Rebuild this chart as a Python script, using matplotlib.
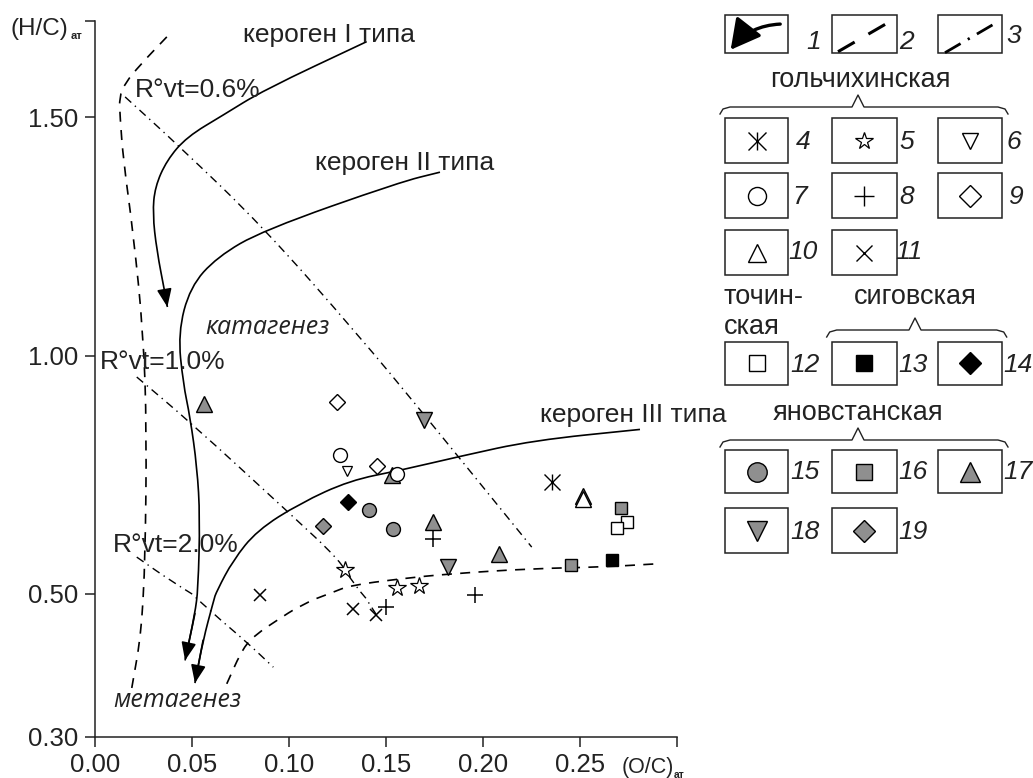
import matplotlib.pyplot as plt
import numpy as np
from matplotlib.patches import Rectangle, FancyArrowPatch, PathPatch
from matplotlib.path import Path

plt.rcParams['font.family'] = ['Liberation Sans', 'DejaVu Sans']

# атомные отношения O/C и H/C, по номерам условных знаков
oc_4 = [0.2354]
hc_4 = [0.7345]
oc_5 = [0.1289, 0.1555, 0.1672]
hc_5 = [0.549, 0.5126, 0.5153]
oc_6 = [0.1297]
hc_6 = [0.757]
oc_7 = [0.1263, 0.1557]
hc_7 = [0.7916, 0.752]
oc_8 = [0.1744, 0.1959, 0.150]
hc_8 = [0.6155, 0.4976, 0.4813]
oc_9 = [0.1249, 0.1452]
hc_9 = [0.9025, 0.7674]
oc_10 = [0.2517]
hc_10 = [0.700]
oc_11 = [0.0848, 0.1331, 0.1448]
hc_11 = [0.4976, 0.479, 0.4697]
oc_12 = [0.2744, 0.2692]
hc_12 = [0.6504, 0.6387]
oc_13 = [0.2663]
hc_13 = [0.570]
oc_14 = [0.1306]
hc_14 = [0.6924]
oc_15 = [0.1413, 0.1535]
hc_15 = [0.6765, 0.635]
oc_16 = [0.271, 0.2452]
hc_16 = [0.6798, 0.561]
oc_17 = [0.0563, 0.1741, 0.2082, 0.1529, 0.2517]
hc_17 = [0.899, 0.650, 0.5826, 0.7485, 0.706]
oc_18 = [0.1696, 0.1818]
hc_18 = [0.864, 0.5559]
oc_19 = [0.1174]
hc_19 = [0.6424]

# линии эволюции керогена
ker1_oc = [0.140, 0.0868, 0.0661, 0.0473, 0.0370, 0.0309, 0.0297, 0.0318, 0.0361, 0.0373]
ker1_hc = [1.659, 1.557, 1.505, 1.459, 1.410, 1.354, 1.298, 1.221, 1.130, 1.102]
ker2_oc = [0.1778, 0.157, 0.0866, 0.0629, 0.049, 0.0428, 0.0454, 0.049, 0.0526, 0.0541, 0.0531, 0.0515, 0.0464]
ker2_hc = [1.385, 1.364, 1.263, 1.207, 1.144, 1.047, 0.942, 0.871, 0.765, 0.661, 0.507, 0.4724, 0.4067]
ker3_oc = [0.2809, 0.2258, 0.1881, 0.1572, 0.1314, 0.1057, 0.0835, 0.0711, 0.0629, 0.0608, 0.0557, 0.0515]
ker3_hc = [0.845, 0.822, 0.7885, 0.759, 0.738, 0.690, 0.633, 0.570, 0.507, 0.487, 0.435, 0.375]

# границы зон (пунктир)
left_oc = [0.037, 0.0232, 0.0155, 0.0125, 0.0129, 0.0146, 0.0197, 0.0249, 0.0266, 0.0258, 0.0241, 0.0189]
left_hc = [1.669, 1.610, 1.572, 1.543, 1.501, 1.410, 1.257, 1.047, 0.843, 0.564, 0.4487, 0.3676]
low_oc = [0.0679, 0.0764, 0.0834, 0.0937, 0.1057, 0.1228, 0.1314, 0.1572, 0.183, 0.2258, 0.2603, 0.2902]
low_hc = [0.374, 0.4253, 0.444, 0.4627, 0.4836, 0.5034, 0.5174, 0.5315, 0.542, 0.553, 0.5559, 0.563]

# изолинии отражательной способности витринита
r06_oc = [0.0155, 0.0438, 0.0866, 0.1349, 0.1691, 0.2251]
r06_hc = [1.543, 1.438, 1.270, 1.047, 0.879, 0.598]
r10_oc = [0.0215, 0.049, 0.1005, 0.1263, 0.133, 0.1459]
r10_hc = [0.955, 0.8605, 0.668, 0.570, 0.5216, 0.467]
r20_oc = [0.0215, 0.0387, 0.0608, 0.0782, 0.0919]
r20_hc = [0.577, 0.528, 0.4724, 0.4323, 0.3973]

GRAY = '#8f8f8f'
INK = '#222222'


def fwd(y):
    y = np.asarray(y, float)
    return np.where(y >= 0.5, y, 0.5 - 1.5 * (0.5 - y))


def inv(u):
    u = np.asarray(u, float)
    return np.where(u >= 0.5, u, 0.5 - (0.5 - u) / 1.5)


def smooth(ax, xs, ys, **kw):
    # квадратичные кривые Безье через середины отрезков
    p = np.column_stack([xs, ys])
    verts = [p[0], (p[0] + p[1]) / 2]
    codes = [Path.MOVETO, Path.LINETO]
    for i in range(1, len(p) - 1):
        verts += [p[i], (p[i] + p[i + 1]) / 2]
        codes += [Path.CURVE3, Path.CURVE3]
    verts.append(p[-1])
    codes.append(Path.LINETO)
    ax.add_patch(PathPatch(Path(verts, codes), fill=False, **kw))


fig = plt.figure(figsize=(10.33, 7.78), dpi=100)
ax = fig.add_axes([0.0920, 0.0531, 0.5634, 0.9203])
ax.set_yscale('function', functions=(fwd, inv))
ax.set_xlim(0, 0.30)
ax.set_ylim(0.30, 1.703)
ax.set_xticks([0, 0.05, 0.10, 0.15, 0.20, 0.25, 0.30],
              labels=['0.00', '0.05', '0.10', '0.15', '0.20', '0.25', ''])
ax.set_yticks([0.30, 0.50, 1.00, 1.50, 1.703],
              labels=['0.30', '0.50', '1.00', '1.50', ''])
ax.minorticks_off()
for s in ['top', 'right']:
    ax.spines[s].set_visible(False)
for s in ['left', 'bottom']:
    ax.spines[s].set_linewidth(1.1)
    ax.spines[s].set_color(INK)
ax.tick_params(direction='out', length=7.2, width=1.1, labelsize=18.5,
               colors=INK)
ax.tick_params(axis='y', pad=5)
ax.tick_params(axis='x', pad=4.5)
ax.patch.set_visible(False)

# кривые керогена со стрелками
for xs, ys in [(ker1_oc, ker1_hc), (ker2_oc, ker2_hc), (ker3_oc, ker3_hc)]:
    smooth(ax, xs, ys, ec='k', lw=1.2, zorder=2)
    ax.annotate('', xy=(xs[-1], ys[-1]), xytext=(xs[-2], ys[-2]),
                arrowprops=dict(arrowstyle='-|>,head_length=1.1,head_width=0.45',
                                mutation_scale=10, color='k', lw=1.2,
                                shrinkA=0, shrinkB=0), zorder=2)

smooth(ax, left_oc, left_hc, ec='k', lw=1.2, ls=(0, (6, 5)), zorder=2)
smooth(ax, low_oc, low_hc, ec='k', lw=1.2, ls=(0, (6, 5)), zorder=2)
for xs, ys in [(r06_oc, r06_hc), (r10_oc, r10_hc), (r20_oc, r20_hc)]:
    smooth(ax, xs, ys, ec='k', lw=1.0, ls=(0, (6, 3.5, 1, 3.5)), zorder=2)

# точки
def pts(x, y, m, fc, ms, mew=1.0, z=4):
    ax.plot(x, y, ls='none', marker=m, mfc=fc, mec='k', ms=ms, mew=mew, zorder=z)

pts(oc_4, hc_4, '|', 'none', 11, 1.0)
pts(oc_4, hc_4, 'x', 'none', 11, 1.0)
pts(oc_5, hc_5, '*', 'white', 13, 0.9)
pts(oc_6, hc_6, 'v', 'white', 7.5, 0.9)
pts(oc_8, hc_8, '+', 'none', 11, 1.1)
pts(oc_9, hc_9, 'D', 'white', 8.5, 1.0)
pts(oc_11, hc_11, 'x', 'none', 9, 1.1)
pts(oc_12, hc_12, 's', 'white', 9, 1.0)
pts(oc_13, hc_13, 's', 'black', 9, 1.0)
pts(oc_14, hc_14, 'D', 'black', 8.5, 1.0)
pts(oc_15, hc_15, 'o', GRAY, 10, 1.0)
pts(oc_16, hc_16, 's', GRAY, 9, 1.0)
pts(oc_17, hc_17, '^', GRAY, 12, 1.0)
pts(oc_18, hc_18, 'v', GRAY, 12, 1.0)
pts(oc_19, hc_19, 'D', GRAY, 8.5, 1.0)
pts(oc_10, hc_10, '^', 'white', 12, 1.0, 5)
pts(oc_7, hc_7, 'o', 'white', 10, 1.0, 5)

# подписи на поле диаграммы
tk = dict(fontsize=19, color=INK, va='center', ha='left')
ax.text(0.0763, 1.673, 'кероген I типа', **tk)
ax.text(0.1134, 1.404, 'кероген II типа', **tk)
ax.text(0.2294, 0.875, 'кероген III типа', **tk)
ax.text(0.0206, 1.558, 'R°vt=0.6%', **tk)
ax.text(0.0026, 0.9866, 'R°vt=1.0%', **tk)
ax.text(0.0093, 0.6015, 'R°vt=2.0%', **tk)
it = dict(fontsize=18, color=INK, va='center', ha='left',
          family=['Open Sans', 'DejaVu Sans'], style='italic')
ax.text(0.0567, 1.060, 'катагенез', **it)
ax.text(0.0093, 0.3508, 'метагенез', **it)

W, H = 1033, 778
fig.text(11 / W, 1 - 29 / H, '(H/C)', fontsize=17.5, color=INK, va='center')
fig.text(71 / W, 1 - 36 / H, 'ат', fontsize=8, weight='bold', color=INK, va='center')
fig.text(622 / W, 1 - 767 / H, '(O/C)', fontsize=15.5, color=INK, va='center')
fig.text(674 / W, 1 - 775 / H, 'ат', fontsize=7.5, weight='bold', color=INK, va='center')

# условные обозначения (координаты в пикселях)
lax = fig.add_axes([0, 0, 1, 1])
lax.set_xlim(0, W)
lax.set_ylim(H, 0)
lax.axis('off')

cols = [(725, 788.3), (831.7, 896.7), (938.3, 1001.7)]


def box(c, y0, y1):
    x0, x1 = cols[c]
    lax.add_patch(Rectangle((x0, y0), x1 - x0, y1 - y0, fill=False, ec=INK, lw=1.1))
    return (x0 + x1) / 2, (y0 + y1) / 2


def num(x, y, s):
    lax.text(x, y, s, fontsize=19, style='italic', color=INK, ha='center', va='center')


def brace(x0, x1, y, px):
    xs = [x0, x0 + 3, x0 + 10, px - 6, px, px + 6, x1 - 10, x1 - 3, x1]
    ys = [y + 7, y + 2, y, y, y - 12, y, y, y + 2, y + 7]
    lax.plot(xs, ys, color=INK, lw=1.0)


def mk(x, y, m, fc, ms, mew=1.0):
    lax.plot([x], [y], ls='none', marker=m, mfc=fc, mec='k', ms=ms, mew=mew)


# 1-3
box(0, 15, 53.3)
lax.add_patch(FancyArrowPatch((783, 24), (729, 52), connectionstyle='arc3,rad=0.25',
                              arrowstyle='-|>,head_length=1.3,head_width=0.7',
                              mutation_scale=14, color='k', lw=2.4))
num(814, 42, '1')
box(1, 15, 53.3)
lax.plot([838, 887], [51.7, 23.3], color='k', lw=2.2, ls=(0, (6.3, 5.2)))
num(906, 42, '2')
box(2, 15, 53.3)
lax.plot([945, 998], [52.7, 21.7], color='k', lw=2.0, ls=(0, (6.5, 3.0, 0.8, 3.0)))
num(1014, 36, '3')

tx = dict(fontsize=19.5, color=INK, ha='center', va='center')
lax.text(860, 80, 'гольчихинская', **tx)
brace(720, 1008, 107, 858)

x, y = box(0, 118.3, 163.3); mk(x, y, '|', 'none', 13); mk(x, y, 'x', 'none', 13)
num(803, 141.7, '4')
x, y = box(1, 118.3, 163.3); mk(x, y, '*', 'white', 13, 0.9)
num(907, 141.7, '5')
x, y = box(2, 118.3, 163.3); mk(x, y, 'v', 'white', 12)
num(1014, 141.7, '6')

x, y = box(0, 173.3, 218.3); mk(x, y, 'o', 'white', 13)
num(800, 196.7, '7')
x, y = box(1, 173.3, 218.3); mk(x, y, '+', 'none', 14)
num(907, 196.7, '8')
x, y = box(2, 173.3, 218.3); mk(x, y, 'D', 'white', 11)
num(1015, 196.7, '9')

x, y = box(0, 230, 275); mk(x, y, '^', 'white', 13)
num(803, 252, '10')
x, y = box(1, 230, 275); mk(x, y, 'x', 'none', 12)
num(909, 252, '11')

lax.text(724, 296.7, 'точин-', fontsize=19.5, color=INK, ha='left', va='center')
lax.text(724, 326.7, 'ская', fontsize=19.5, color=INK, ha='left', va='center')
lax.text(915, 296.7, 'сиговская', **tx)
brace(826.7, 1006.7, 330, 915)

x, y = box(0, 341.7, 385); mk(x, y, 's', 'white', 11)
num(805, 365, '12')
x, y = box(1, 341.7, 385); mk(x, y, 's', 'black', 12)
num(913, 365, '13')
x, y = box(2, 341.7, 385); mk(x, y, 'D', 'black', 11)
num(1018, 365, '14')

lax.text(858, 413.3, 'яновстанская', **tx)
brace(720, 1008, 440, 858)

x, y = box(0, 450, 493.3); mk(x, y, 'o', GRAY, 14)
num(805, 471.7, '15')
x, y = box(1, 450, 493.3); mk(x, y, 's', GRAY, 12)
num(913, 471.7, '16')
x, y = box(2, 450, 493.3); mk(x, y, '^', GRAY, 14)
num(1018, 471.7, '17')

x, y = box(0, 508.3, 553.3); mk(x, y, 'v', GRAY, 14)
num(805, 531.7, '18')
x, y = box(1, 508.3, 553.3); mk(x, y, 'D', GRAY, 11)
num(913, 531.7, '19')

fig.savefig('out.png', dpi=100)
